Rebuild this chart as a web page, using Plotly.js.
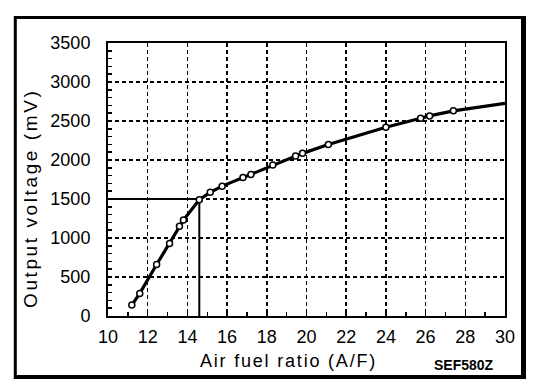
<!DOCTYPE html>
<html>
<head>
<meta charset="utf-8">
<script src="https://cdn.plot.ly/plotly-3.0.1.min.js"></script>
<style>html,body{margin:0;padding:0;background:#fff;}#chart{width:560px;height:390px;}</style>
</head>
<body>
<div id="chart"></div>
<script>
// Measured points (air fuel ratio vs output voltage)
const afr = [11.2, 11.6, 12.45, 13.1, 13.6, 13.8, 14.6, 15.15, 15.75, 16.8, 17.2, 18.3, 19.45, 19.8, 21.1, 24.0, 25.75, 26.2, 27.4];
const voltage = [140, 290, 660, 930, 1150, 1230, 1490, 1585, 1665, 1775, 1815, 1935, 2050, 2085, 2200, 2420, 2535, 2565, 2630];
// Curve continues past the last measured point to the axis end
const curveEndAfr = [30];
const curveEndVoltage = [2725];
// Stoichiometric reference
const refAfr = 14.6;
const refVoltage = 1500;
const xTicks = [10, 12, 14, 16, 18, 20, 22, 24, 26, 28, 30];
const yTicks = [0, 500, 1000, 1500, 2000, 2500, 3000, 3500];
const xTitle = 'Air fuel ratio (A/F)';
const yTitle = 'Output voltage (mV)';
const figCode = 'SEF580Z';

const font = "Liberation Sans, Arial, Helvetica, sans-serif";

const traces = [
  {
    x: [10, refAfr, refAfr], y: [refVoltage, refVoltage, 0],
    mode: 'lines', line: {color: '#000', width: 2}, hoverinfo: 'skip', showlegend: false
  },
  {
    x: afr.concat(curveEndAfr), y: voltage.concat(curveEndVoltage),
    mode: 'lines', line: {color: '#000', width: 3.2}, showlegend: false
  },
  {
    x: afr, y: voltage, mode: 'markers',
    marker: {symbol: 'circle', size: 6, color: '#fff', line: {color: '#000', width: 1.5}},
    showlegend: false
  }
];

const fx = px => (px - 108) / 397;
const fy = py => (316 - py) / 273;

const axisCommon = {
  showline: true, linecolor: '#000', linewidth: 2, mirror: true,
  showgrid: true, gridcolor: '#000', gridwidth: 1.5, griddash: '4px,3px',
  zeroline: false, ticks: 'inside', ticklen: 4, tickcolor: '#000', tickwidth: 1.5,
  tickfont: {family: font, size: 18}
};

const layout = {
  width: 560, height: 390,
  margin: {l: 108, r: 55, t: 43, b: 74},
  paper_bgcolor: '#fff', plot_bgcolor: '#fff',
  showlegend: false,
  font: {family: font, color: '#000', size: 18},
  xaxis: Object.assign({}, axisCommon, {
    range: [10, 30], tickvals: xTicks, ticktext: xTicks.map(String),
    ticklabelstandoff: 3,
    minor: {dtick: 1, ticks: 'inside', ticklen: 4, tickcolor: '#000', tickwidth: 1.5, showgrid: false}
  }),
  yaxis: Object.assign({}, axisCommon, {
    range: [0, 3500], tickvals: yTicks, ticktext: yTicks.map(String),
    ticklabelstandoff: 12,
    minor: {dtick: 100, ticks: 'inside', ticklen: 4, tickcolor: '#000', tickwidth: 1.5, showgrid: false}
  }),
  shapes: [
    {type: 'line', xref: 'paper', yref: 'paper', x0: fx(15.3), x1: fx(15.3), y0: fy(16), y1: fy(379), line: {color: '#000', width: 3}},
    {type: 'line', xref: 'paper', yref: 'paper', x0: fx(14), x1: fx(526), y0: fy(17.5), y1: fy(17.5), line: {color: '#000', width: 3}},
    {type: 'line', xref: 'paper', yref: 'paper', x0: fx(523.5), x1: fx(523.5), y0: fy(16), y1: fy(379), line: {color: '#000', width: 5}},
    {type: 'line', xref: 'paper', yref: 'paper', x0: fx(14), x1: fx(526), y0: fy(377), y1: fy(377), line: {color: '#000', width: 4}}
  ],
  annotations: [
    {text: '<span style="letter-spacing:1.8px">' + xTitle + '</span>', xref: 'paper', yref: 'paper',
     x: fx(288), y: fy(361), xanchor: 'center', yanchor: 'middle', showarrow: false,
     font: {family: font, size: 18, color: '#000'}},
    {text: '<span style="letter-spacing:2.6px">' + yTitle + '</span>', xref: 'paper', yref: 'paper',
     x: fx(30), y: fy(199), xanchor: 'center', yanchor: 'middle', textangle: -90, showarrow: false,
     font: {family: font, size: 19, color: '#000'}},
    {text: '<b>' + figCode + '</b>', xref: 'paper', yref: 'paper', x: fx(464), y: fy(365),
     xanchor: 'center', yanchor: 'middle', showarrow: false, font: {family: font, size: 14, color: '#000'}}
  ]
};

Plotly.newPlot('chart', traces, layout, {staticPlot: true, displayModeBar: false});
</script>
</body>
</html>
